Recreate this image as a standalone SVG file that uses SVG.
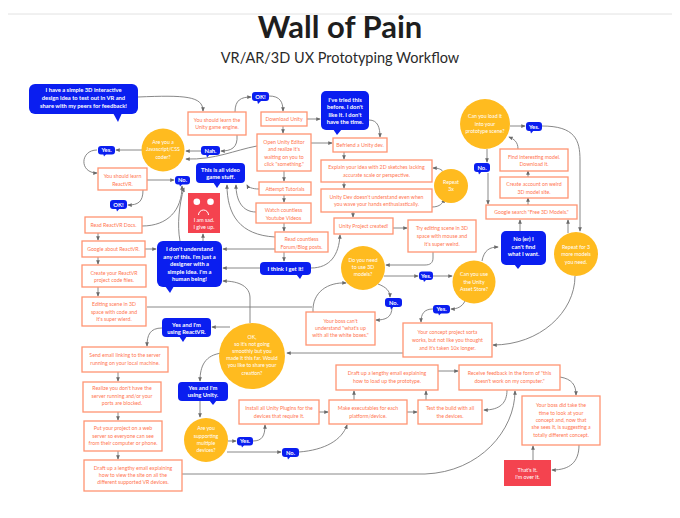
<svg xmlns="http://www.w3.org/2000/svg" width="680" height="518" viewBox="0 0 680 518">
<defs>
<style>
text{font-family:Lato,"Liberation Sans",sans-serif}
.b rect{fill:#fff;stroke:#ff9472;stroke-width:1.3}
.b text{font-size:5.2px;fill:#ff7650;text-anchor:middle}
.u rect,.u path{fill:#0a1ef0}
.u text{font-size:5.8px;fill:#fff;font-weight:bold;text-anchor:middle}
.c circle{fill:#ffbb1f}
.c text{font-size:5.2px;fill:#fff;text-anchor:middle}
.r rect{fill:#f4434f}
.r text{font-size:5.4px;fill:#fff;text-anchor:middle}
.k path,.k line{fill:none;stroke:#7a7a7a;stroke-width:0.9;marker-end:url(#a)}
</style>
<marker id="a" viewBox="0 0 6 6" refX="5" refY="3" markerWidth="4.5" markerHeight="4.5" orient="auto" markerUnits="userSpaceOnUse"><path d="M0,0.5 L6,3 L0,5.5z" fill="#6a6a6a"/></marker>
</defs>
<rect width="680" height="518" fill="#fff"/>
<line x1="8" y1="14" x2="672" y2="14" stroke="#e2e2e2" stroke-width="1"/>
<text x="340" y="38" font-size="31" font-weight="bold" fill="#1e1e1e" text-anchor="middle">Wall of Pain</text>
<text x="340" y="63" font-size="14.5" fill="#2a2a2a" text-anchor="middle">VR/AR/3D UX Prototyping Workflow</text>

<g class="k" id="connectors">
<path d="M138,97 C185,95 203,96 203,111"/>
<path d="M235,112 C235,100 241,97 251,97"/>
<path d="M269,96 C280,96 283,102 283,111"/>
<path d="M237,135 C238,148 231,151 221,151"/>
<line x1="201" y1="151" x2="186" y2="151"/>
<line x1="142" y1="150" x2="116" y2="150"/>
<path d="M97,150 C80,150 79,173 97,173"/>
<line x1="147" y1="180" x2="174" y2="180"/>
<path d="M143,190 C143,202 138,205 128,205"/>
<path d="M142,226 C168,226 182,210 182,186"/>
<path d="M180,241 C177,225 179,205 184,188"/>
<path d="M257,146 C235,150 215,160 186,159"/>
<line x1="98" y1="233" x2="98" y2="240"/>
<line x1="98" y1="257" x2="98" y2="264"/>
<line x1="98" y1="287" x2="98" y2="296"/>
<line x1="145" y1="249" x2="156" y2="249"/>
<line x1="203" y1="241" x2="203" y2="234"/>
<line x1="275" y1="249" x2="223" y2="249"/>
<line x1="260" y1="268" x2="223" y2="268"/>
<path d="M250,323 L250,298 C250,287 240,281 223,281"/>
<path d="M259,189 C252,189 248,187 247,185"/>
<path d="M256,212 C242,212 236,200 236,185"/>
<path d="M275,237 C240,235 227,215 227,185"/>
<line x1="307" y1="119" x2="320" y2="119"/>
<line x1="283" y1="126" x2="283" y2="133"/>
<path d="M369,120 C378,120 380,128 380,137"/>
<line x1="311" y1="143" x2="332" y2="143"/>
<line x1="344" y1="152" x2="344" y2="159"/>
<line x1="344" y1="182" x2="344" y2="188"/>
<line x1="353" y1="212" x2="353" y2="217"/>
<path d="M432,207 C440,207 443,203 444,199"/>
<path d="M444,173 C442,169 438,168 433,168"/>
<line x1="284" y1="171" x2="284" y2="181"/>
<line x1="284" y1="195" x2="284" y2="202"/>
<line x1="284" y1="223" x2="284" y2="231"/>
<line x1="284" y1="252" x2="284" y2="261"/>
<path d="M311,268 C330,268 339,255 340,235"/>
<line x1="393" y1="228" x2="407" y2="228"/>
<path d="M433,252 L433,258 C433,263 430,265 425,265 L386,265"/>
<line x1="384" y1="276" x2="418" y2="276"/>
<line x1="433" y1="276" x2="452" y2="276"/>
<path d="M482,261 C484,250 490,247 498,247"/>
<line x1="520" y1="231" x2="520" y2="220"/>
<line x1="528" y1="205" x2="528" y2="198"/>
<line x1="528" y1="177" x2="528" y2="171"/>
<path d="M518,149 C518,142 514,139 509,137"/>
<line x1="510" y1="126" x2="525" y2="126"/>
<path d="M542,126 C575,126 580,140 580,160 L580,231"/>
<line x1="487" y1="149" x2="487" y2="162"/>
<line x1="488" y1="173" x2="488" y2="204"/>
<line x1="568" y1="233" x2="568" y2="220"/>
<path d="M575,276 C575,312 540,345 493,345"/>
<path d="M465,301 C462,307 457,309 451,309"/>
<path d="M433,309 C424,309 421,314 421,322"/>
<line x1="403" y1="353" x2="287" y2="353"/>
<path d="M378,284 C386,287 390,291 390,297"/>
<path d="M392,307 C392,318 385,320 376,320"/>
<path d="M147,307 L312,307" style="marker-end:none"/>
<path d="M313,312 C312,292 328,282 346,283"/>
<line x1="230" y1="327" x2="212" y2="327"/>
<path d="M162,328 C150,328 147,335 147,346"/>
<path d="M222,353 C205,355 200,366 200,381"/>
<line x1="118" y1="372" x2="118" y2="381"/>
<line x1="118" y1="412" x2="118" y2="420"/>
<line x1="118" y1="451" x2="118" y2="459"/>
<line x1="200" y1="401" x2="200" y2="417"/>
<line x1="228" y1="441" x2="236" y2="441"/>
<line x1="227" y1="452" x2="281" y2="452"/>
<path d="M253,441 C262,441 265,436 265,425"/>
<path d="M299,452 C325,450 342,440 347,425"/>
<line x1="319" y1="412" x2="328" y2="412"/>
<line x1="407" y1="412" x2="417" y2="412"/>
<line x1="354" y1="400" x2="354" y2="391"/>
<line x1="426" y1="400" x2="426" y2="391"/>
<line x1="438" y1="371" x2="458" y2="371"/>
<path d="M507,390 C507,403 500,410 484,410"/>
<path d="M560,377 C572,379 576,385 576,395"/>
<path d="M182,474 L425,474 C480,472 515,430 515,391"/>
<line x1="533" y1="460" x2="533" y2="446"/>
<path d="M579,445 C579,462 570,470 552,470"/>
</g>

<g class="u" id="start"><rect x="29" y="84" width="109" height="30" rx="6"/><path d="M113,113 L122,113 L118,122z"/><text x="83.5" y="92">I have a simple 3D interactive</text><text x="83.5" y="100">design idea to test out in VR and</text><text x="83.5" y="108">share with my peers for feedback!</text></g>
<g class="b" id="learnUnity"><rect x="188" y="112" width="58" height="23"/><text x="217" y="122">You should learn the</text><text x="217" y="129">Unity game engine.</text></g>
<g class="u" id="ok1"><rect x="252" y="92" width="17" height="9" rx="3"/><path d="M257,100 L262,100 L258,104z"/><text x="260.5" y="98.5">OK!</text></g>
<g class="b" id="download"><rect x="261" y="112" width="46" height="14"/><text x="284" y="121">Download Unity</text></g>
<g class="u" id="tried"><rect x="321" y="91" width="48" height="39" rx="5"/><path d="M333,129 L342,129 L337,135z"/><text x="345" y="101.5">I've tried this</text><text x="345" y="109">before. I don't</text><text x="345" y="116.5">like it. I don't</text><text x="345" y="124">have the time.</text></g>
<g class="b" id="befriend"><rect x="333" y="138" width="54" height="14"/><text x="360" y="147">Befriend a Unity dev.</text></g>
<g class="b" id="openEditor"><rect x="257" y="134" width="54" height="37"/><text x="284" y="143.5">Open Unity Editor</text><text x="284" y="151">and realize it's</text><text x="284" y="158.5">waiting on you to</text><text x="284" y="166">click "something."</text></g>
<g class="b" id="explain"><rect x="321" y="160" width="111" height="22"/><text x="376.5" y="169">Explain your idea with 2D sketches lacking</text><text x="376.5" y="176.5">accurate scale or perspective.</text></g>
<g class="b" id="unityDev"><rect x="321" y="189" width="111" height="23"/><text x="376.5" y="198.5">Unity Dev doesn't understand even when</text><text x="376.5" y="206">you wave your hands enthusiastically.</text></g>
<g class="c" id="repeat3x"><circle cx="451" cy="186" r="17"/><text x="451" y="184">Repeat</text><text x="451" y="191">3x</text></g>
<g class="b" id="projCreated"><rect x="334" y="218" width="59" height="16"/><text x="363.5" y="228">Unity Project created!</text></g>
<g class="b" id="tryEditing"><rect x="408" y="220" width="68" height="32"/><text x="442" y="230">Try editing scene in 3D</text><text x="442" y="238">space with mouse and</text><text x="442" y="246">it's super weird.</text></g>
<g class="b" id="attempt"><rect x="259" y="182" width="52" height="13"/><text x="285" y="191">Attempt Tutorials</text></g>
<g class="b" id="watch"><rect x="256" y="203" width="55" height="20"/><text x="283.5" y="212">Watch countless</text><text x="283.5" y="219.5">Youtube Videos</text></g>
<g class="b" id="readForum"><rect x="275" y="232" width="53" height="20"/><text x="301.5" y="241">Read countless</text><text x="301.5" y="248.5">Forum/Blog posts.</text></g>
<g class="u" id="getIt"><rect x="260" y="262" width="51" height="13" rx="4"/><path d="M296,274 L303,274 L300,279z"/><text x="285.5" y="270.8">I think I get it!</text></g>
<g class="c" id="need3d"><circle cx="363" cy="268" r="22"/><text x="363" y="262">Do you need</text><text x="363" y="269">to use 3D</text><text x="363" y="276">models?</text></g>
<g class="u" id="yes3d"><rect x="419" y="271.5" width="14" height="8.5" rx="3"/><path d="M423,279 L427,279 L424,282z"/><text x="426" y="277.7">Yes.</text></g>
<g class="c" id="assetStore"><circle cx="474" cy="282" r="21.5"/><text x="474" y="276">Can you use</text><text x="474" y="283.5">the Unity</text><text x="474" y="291">Asset Store?</text></g>
<g class="u" id="cantFind"><rect x="501" y="231" width="45" height="34" rx="5"/><path d="M514,264 L522,264 L518,269z"/><text x="523.5" y="241">No (er) I</text><text x="523.5" y="248.5">can't find</text><text x="523.5" y="256">what I want.</text></g>
<g class="b" id="googleFree"><rect x="486" y="205" width="91" height="14"/><text x="531.5" y="214">Google search "Free 3D Models."</text></g>
<g class="b" id="createAcct"><rect x="500" y="177" width="68" height="21"/><text x="534" y="186">Create account on weird</text><text x="534" y="193.5">3D model site.</text></g>
<g class="b" id="findModel"><rect x="500" y="149" width="68" height="22"/><text x="534" y="158.5">Find interesting model.</text><text x="534" y="166">Download it.</text></g>
<g class="c" id="loadScene"><circle cx="485" cy="124" r="25"/><text x="485" y="118">Can you load it</text><text x="485" y="125.5">into your</text><text x="485" y="133">prototype scene?</text></g>
<g class="u" id="yesLoad"><rect x="526" y="122" width="16" height="9" rx="3"/><path d="M530,130 L534,130 L531,133.5z"/><text x="534" y="128.5">Yes.</text></g>
<g class="u" id="noLoad"><rect x="474" y="163" width="16" height="9" rx="3"/><path d="M478,171 L482,171 L479,174.5z"/><text x="482" y="169.5">No.</text></g>
<g class="c" id="repeatMore"><circle cx="576" cy="254" r="22"/><text x="576" y="248.5">Repeat for 3</text><text x="576" y="256">more models</text><text x="576" y="263.5">you need.</text></g>
<g class="b" id="concept"><rect x="403" y="323" width="89" height="34"/><text x="447.5" y="334">Your concept project sorta</text><text x="447.5" y="342">works, but not like you thought</text><text x="447.5" y="349.5">and it's taken 10x longer.</text></g>
<g class="u" id="yesAsset"><rect x="433" y="305" width="17" height="8.5" rx="3"/><path d="M438,312 L442,312 L439,315.5z"/><text x="441.5" y="311.3">Yes.</text></g>
<g class="b" id="bossCant"><rect x="306" y="312" width="69" height="33"/><text x="340.5" y="323">Your boss can't</text><text x="340.5" y="330">understand "what's up</text><text x="340.5" y="337">with all the white boxes."</text></g>
<g class="u" id="no3d"><rect x="385" y="298" width="17" height="9" rx="3"/><path d="M390,306 L394,306 L391,309.5z"/><text x="393.5" y="304.5">No.</text></g>

<g class="u" id="nah"><rect x="201" y="146" width="19" height="9" rx="3"/><path d="M206,154 L210,154 L207,157.5z"/><text x="210.5" y="152.5">Nah.</text></g>
<g class="c" id="jsCoder"><circle cx="163" cy="150" r="21.5"/><text x="163" y="144">Are you a</text><text x="163" y="151">Javascript/CSS</text><text x="163" y="158.5">coder?</text></g>
<g class="u" id="yesJs"><rect x="98" y="146" width="17" height="8.5" rx="3"/><path d="M103,153 L107,153 L104,156.5z"/><text x="106.5" y="152.2">Yes.</text></g>
<g class="b" id="learnReact"><rect x="98" y="168" width="49" height="22"/><text x="122.5" y="178">You should learn</text><text x="122.5" y="185.5">ReactVR.</text></g>
<g class="u" id="noReact"><rect x="175" y="176" width="15" height="8.5" rx="3"/><path d="M179,183 L183,183 L180,186.5z"/><text x="182.5" y="182.2">No.</text></g>
<g class="u" id="ok2"><rect x="110" y="200" width="17" height="9" rx="3"/><path d="M116,208 L120,208 L117,211.5z"/><text x="118.5" y="206.5">OK!</text></g>
<g class="u" id="videoGame"><rect x="196" y="163" width="49" height="20" rx="4"/><path d="M213,182 L221,182 L217,188z"/><text x="220.5" y="171.5">This is all video</text><text x="220.5" y="179.3">game stuff.</text></g>
<g class="r" id="sad"><rect x="188" y="193" width="32" height="40"/><circle cx="196.8" cy="201.8" r="3.3" fill="#fff"/><circle cx="210.5" cy="201.8" r="3.3" fill="#fff"/><path d="M198.5,215 A5,5 0 0 1 208.5,215" fill="none" stroke="#fff" stroke-width="1"/><text x="204" y="222">I am sad.</text><text x="204" y="229">I give up.</text></g>
<g class="b" id="readDocs"><rect x="85" y="217" width="57" height="16"/><text x="113.5" y="227">Read ReactVR Docs.</text></g>
<g class="b" id="googleReact"><rect x="82" y="241" width="63" height="16"/><text x="113.5" y="251">Google about ReactVR.</text></g>
<g class="b" id="createReact"><rect x="82" y="265" width="64" height="22"/><text x="114" y="274.5">Create your ReactVR</text><text x="114" y="282">project code files.</text></g>
<g class="b" id="editCode"><rect x="82" y="297" width="64" height="29"/><text x="114" y="306">Editing scene in 3D</text><text x="114" y="313.5">space with code and</text><text x="114" y="320.5">it's super wierd.</text></g>
<g class="u" id="dontUnderstand"><rect x="157" y="241" width="65" height="46" rx="6"/><path d="M165,286 L174,286 L170,293z"/><text x="189.5" y="251">I don't understand</text><text x="189.5" y="258.5">any of this. I'm just a</text><text x="189.5" y="266">designer with a</text><text x="189.5" y="273.5">simple idea. I'm a</text><text x="189.5" y="281">human being!</text></g>

<g class="c" id="share"><circle cx="252" cy="356" r="33"/><text x="252" y="339">OK,</text><text x="252" y="346">so it's not going</text><text x="252" y="353">smoothly but you</text><text x="252" y="360">made it this far. Would</text><text x="252" y="367">you like to share your</text><text x="252" y="374.5">creation?</text></g>
<g class="u" id="yesReact"><rect x="162" y="318" width="49" height="19" rx="4"/><path d="M179,336 L187,336 L183,342z"/><text x="186.5" y="326.5">Yes and I'm</text><text x="186.5" y="334">using ReactVR.</text></g>
<g class="b" id="sendEmail"><rect x="82" y="347" width="86" height="25"/><text x="125" y="357">Send email linking to the server</text><text x="125" y="364.5">running on your local machine.</text></g>
<g class="u" id="yesUnity"><rect x="178" y="382" width="50" height="19" rx="4"/><path d="M209,400 L217,400 L213,405z"/><text x="203" y="389.5">Yes and I'm</text><text x="203" y="397">using Unity.</text></g>
<g class="b" id="realize"><rect x="83" y="382" width="78" height="30"/><text x="122" y="390">Realize you don't have the</text><text x="122" y="397.5">server running and/or your</text><text x="122" y="405">ports are blocked.</text></g>
<g class="b" id="putWeb"><rect x="84" y="421" width="78" height="30"/><text x="123" y="430">Put your project on a web</text><text x="123" y="437.5">server so everyone can see</text><text x="123" y="444.5">from their computer or phone.</text></g>
<g class="b" id="draftVR"><rect x="84" y="460" width="98" height="31"/><text x="133" y="469.5">Draft up a lengthy email explaining</text><text x="133" y="477">how to view the site on all the</text><text x="133" y="484">different supported VR devices.</text></g>
<g class="c" id="multi"><circle cx="206" cy="440" r="22"/><text x="206" y="430">Are you</text><text x="206" y="437.5">supporting</text><text x="206" y="444.5">multiple</text><text x="206" y="452">devices?</text></g>
<g class="u" id="yesMulti"><rect x="237" y="437" width="16" height="8.5" rx="3"/><path d="M241,444 L245,444 L242,447.5z"/><text x="245" y="443.3">Yes.</text></g>
<g class="u" id="noMulti"><rect x="282" y="448" width="17" height="9" rx="3"/><path d="M287,456 L291,456 L288,459.5z"/><text x="290.5" y="454.5">No.</text></g>
<g class="b" id="install"><rect x="239" y="400" width="80" height="24"/><text x="279" y="410">Install all Unity Plugins for the</text><text x="279" y="417.5">devices that require it.</text></g>
<g class="b" id="makeExe"><rect x="329" y="400" width="78" height="24"/><text x="368" y="410">Make executables for each</text><text x="368" y="417.5">platform/device.</text></g>
<g class="b" id="testBuild"><rect x="418" y="400" width="64" height="24"/><text x="450" y="410">Test the build with all</text><text x="450" y="417.5">the devices.</text></g>
<g class="b" id="draftLoad"><rect x="336" y="365" width="102" height="25"/><text x="387" y="375">Draft up a  lengthy email explaining</text><text x="387" y="382.5">how to load up the prototype.</text></g>
<g class="b" id="receive"><rect x="459" y="365" width="101" height="25"/><text x="509.5" y="375">Receive feedback in the form of "this</text><text x="509.5" y="382.5">doesn't work on my computer."</text></g>
<g class="b" id="bossDid"><rect x="522" y="396" width="78" height="49"/><text x="561" y="407">Your boss did take the</text><text x="561" y="414.5">time to look at your</text><text x="561" y="422">concept and, now that</text><text x="561" y="429">she sees it, is suggesting a</text><text x="561" y="436.5">totally different concept.</text></g>
<g class="r" id="overIt"><rect x="504" y="460" width="47" height="26"/><text x="527.5" y="472">That's it.</text><text x="527.5" y="479">I'm over it.</text></g>
</svg>
